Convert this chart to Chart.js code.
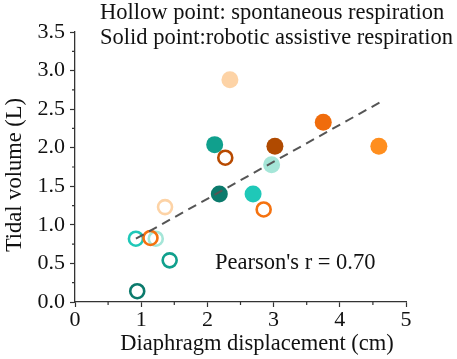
<!DOCTYPE html>
<html>
<head>
<meta charset="utf-8">
<script src="https://cdn.jsdelivr.net/npm/chart.js@4/dist/chart.umd.min.js"></script>
<style>
  html, body { margin: 0; padding: 0; background: #fff; }
  #wrap { width: 457px; height: 359px; }
</style>
</head>
<body>
<div id="wrap"><canvas id="grafico"></canvas></div>
<script>
// diaphragm displacement (cm) vs tidal volume (L)
var solidX = [2.34, 2.11, 2.18, 2.69, 3.02, 2.97, 3.75, 4.59];
var solidY = [2.88, 2.04, 1.40, 1.40, 2.02, 1.78, 2.33, 2.02];
var solidCores = ['#fdd3a6', '#10a08d', '#0b7a6c', '#1fc8b8', '#b04a00', '#a5e6d8', '#f06c0c', '#ff8e1e'];

var hollowX = [2.27, 2.85, 1.36, 0.92, 1.22, 1.14, 1.43, 0.94];
var hollowY = [1.87, 1.20, 1.23, 0.82, 0.82, 0.83, 0.54, 0.14];
var hollowCores = ['#b84a00', '#f5720f', '#fdd3a6', '#1fc8b8', '#a5e6d8', '#f5720f', '#10a08d', '#0b7a6c'];

var ajusteX = [0.92, 4.61];
var ajusteY = [0.82, 2.59];

var textoTopo = ['Hollow point: spontaneous respiration', 'Solid point:robotic assistive respiration'];
var textoPearson = "Pearson's r = 0.70";
var tituloX = 'Diaphragm displacement (cm)';
var tituloY = 'Tidal volume (L)';

var fonteSerif = '"Liberation Serif", "Times New Roman", serif';

function pontos(xs, ys) {
    var arr = [];
    for (var i = 0; i < xs.length; i++) arr.push({ x: xs[i], y: ys[i] });
    return arr;
}

var pluginExtras = {
    id: 'extras',
    afterDraw: function (chart) {
        var ctx = chart.ctx;
        var sx = chart.scales.x, sy = chart.scales.y;
        ctx.save();
        // minor ticks
        ctx.strokeStyle = '#333';
        ctx.lineWidth = 1.2;
        ctx.beginPath();
        for (var v = 0.5; v < 5; v += 1) {
            var px = sx.getPixelForValue(v);
            ctx.moveTo(px, sy.bottom);
            ctx.lineTo(px, sy.bottom + 3);
        }
        for (var w = 0.25; w < 3.5; w += 0.5) {
            var py = sy.getPixelForValue(w);
            ctx.moveTo(sx.left, py);
            ctx.lineTo(sx.left - 3, py);
        }
        ctx.stroke();
        // texts
        ctx.fillStyle = '#111';
        ctx.font = '22.5px ' + fonteSerif;
        ctx.textBaseline = 'alphabetic';
        ctx.textAlign = 'left';
        ctx.fillText(textoTopo[0], 100, 19);
        ctx.fillText(textoTopo[1], 100, 44);
        ctx.fillText(textoPearson, 215, 269);
        // axis titles
        ctx.textAlign = 'center';
        ctx.fillText(tituloX, 257, 350);
        ctx.translate(21, 175);
        ctx.rotate(-Math.PI / 2);
        ctx.fillText(tituloY, 0, 0);
        ctx.restore();
    }
};

var ctxGrafico = document.getElementById('grafico').getContext('2d');
new Chart(ctxGrafico, {
    type: 'scatter',
    data: {
        datasets: [
            {
                data: pontos(hollowX, hollowY),
                pointRadius: 7,
                pointBackgroundColor: 'rgba(255,255,255,0)',
                pointBorderColor: hollowCores,
                pointBorderWidth: 2.6,
                order: 2
            },
            {
                data: pontos(solidX, solidY),
                pointRadius: 8.5,
                pointBackgroundColor: solidCores,
                pointBorderWidth: 0,
                order: 3
            },
            {
                type: 'line',
                data: pontos(ajusteX, ajusteY),
                borderColor: '#555',
                borderWidth: 2,
                borderDash: [9, 6],
                pointRadius: 0,
                fill: false,
                order: 1
            }
        ]
    },
    options: {
        responsive: true,
        maintainAspectRatio: false,
        animation: false,
        layout: { padding: { top: 32, right: 51, left: 0, bottom: 0 } },
        plugins: { legend: { display: false }, tooltip: { enabled: false } },
        scales: {
            x: {
                type: 'linear',
                min: 0, max: 5,
                ticks: { stepSize: 1, color: '#111', font: { family: fonteSerif, size: 22 }, padding: 0, maxRotation: 0 },
                grid: { drawOnChartArea: false, drawTicks: true, tickLength: 5, tickColor: '#333', tickWidth: 1.2 },
                border: { color: '#333', width: 1.3 },
                afterFit: function (scale) { scale.height = 57; }
            },
            y: {
                type: 'linear',
                min: 0, max: 3.5,
                ticks: {
                    stepSize: 0.5, color: '#111', font: { family: fonteSerif, size: 22 }, padding: 5,
                    callback: function (v) { return v.toFixed(1); }
                },
                grid: { drawOnChartArea: false, drawTicks: true, tickLength: 5, tickColor: '#333', tickWidth: 1.2 },
                border: { color: '#333', width: 1.3 },
                afterFit: function (scale) { scale.width = 75; }
            }
        }
    },
    plugins: [pluginExtras]
});
</script>
</body>
</html>
